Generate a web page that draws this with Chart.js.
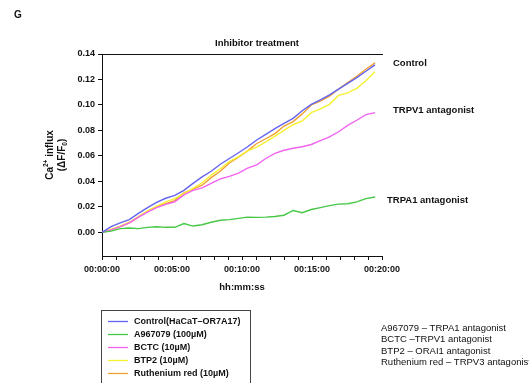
<!DOCTYPE html>
<html>
<head>
<meta charset="utf-8">
<script src="https://cdn.jsdelivr.net/npm/chart.js@4"></script>
<style>
  html, body { margin:0; padding:0; background:#fff; }
  #wrap { width:529px; height:383px; position:relative; }
</style>
</head>
<body>
<div id="wrap"><canvas id="chart" width="529" height="383"></canvas></div>
<script>
/* ---------- data (minutes since start, ΔF/F0) ---------- */
const times = [0, 0.65, 1.3, 1.95, 2.6, 3.25, 3.9, 4.55, 5.2, 5.85, 6.5, 7.15, 7.8, 8.45, 9.1, 9.75,
  10.4, 11.05, 11.7, 12.35, 13, 13.65, 14.3, 14.95, 15.6, 16.25, 16.9, 17.55, 18.2, 18.85, 19.5];

const control = [0, 0.0045, 0.0075, 0.010, 0.015, 0.0195, 0.0235, 0.0268, 0.029, 0.033, 0.0385, 0.0436,
  0.048, 0.0535, 0.058, 0.0625, 0.0672, 0.0725, 0.077, 0.0815, 0.0855, 0.0895, 0.0955, 0.1005, 0.104,
  0.108, 0.1125, 0.117, 0.1215, 0.1265, 0.1315];
const a967079 = [0, 0.001, 0.003, 0.0035, 0.003, 0.004, 0.0045, 0.004, 0.004, 0.007, 0.005, 0.006,
  0.008, 0.0095, 0.010, 0.011, 0.012, 0.0118, 0.012, 0.0125, 0.0135, 0.0172, 0.0155, 0.018, 0.0195,
  0.021, 0.0222, 0.0225, 0.024, 0.0265, 0.0278];
const bctc = [0, 0.002, 0.0045, 0.0075, 0.012, 0.016, 0.0195, 0.022, 0.024, 0.0295, 0.033, 0.035,
  0.0385, 0.042, 0.044, 0.0465, 0.0505, 0.053, 0.058, 0.062, 0.0645, 0.066, 0.0672, 0.069, 0.072,
  0.075, 0.079, 0.084, 0.088, 0.0925, 0.094];
const btp2 = [0, 0.0025, 0.005, 0.008, 0.0125, 0.017, 0.0205, 0.024, 0.0265, 0.0305, 0.0345, 0.039,
  0.045, 0.050, 0.0555, 0.0595, 0.064, 0.067, 0.071, 0.0755, 0.080, 0.0845, 0.0875, 0.094, 0.097,
  0.1005, 0.1075, 0.1095, 0.113, 0.119, 0.126];
const ruthenium = [0, 0.002, 0.0045, 0.0075, 0.012, 0.0165, 0.0203, 0.0225, 0.025, 0.031, 0.034, 0.037,
  0.043, 0.048, 0.0545, 0.059, 0.064, 0.0698, 0.0735, 0.0775, 0.0835, 0.087, 0.093, 0.100, 0.103,
  0.107, 0.1125, 0.1175, 0.1225, 0.128, 0.133];

const seriesLabels = ['Control(HaCaT\u2013OR7A17)', 'A967079 (100\u00b5M)', 'BCTC (10\u00b5M)',
  'BTP2 (10\u00b5M)', 'Ruthenium red (10\u00b5M)'];
const seriesColors = ['#6464f0', '#46c846', '#f064f0', '#f5f032', '#f0a032'];

const yTicks = [0, 0.02, 0.04, 0.06, 0.08, 0.10, 0.12, 0.14];
const xTicks = [0, 1, 2, 3, 4, 5, 6, 7, 8, 9, 10, 11, 12, 13, 14, 15, 16, 17, 18, 19, 20];
const xLabels = {0: '00:00:00', 5: '00:05:00', 10: '00:10:00', 15: '00:15:00', 20: '00:20:00'};

const endLabels = [
  { text: 'Control', x: 393, y: 63 },
  { text: 'TRPV1 antagonist', x: 393, y: 110 },
  { text: 'TRPA1 antagonist', x: 387, y: 200 }
];
const notes = ['A967079 \u2013 TRPA1 antagonist', 'BCTC \u2013TRPV1 antagonist',
  'BTP2 \u2013 ORAI1 antagonist', 'Ruthenium red \u2013 TRPV3 antagonist'];

const FONT = '"Liberation Sans", Arial, sans-serif';

/* ---------- helpers ---------- */
function toXY(ys){ return ys.map((v, i) => ({ x: times[i], y: v })); }

const allSeries = [control, a967079, bctc, btp2, ruthenium];

/* ---------- extra text: titles, labels, legend box, notes ---------- */
const annotations = {
  id: 'annotations',
  afterDraw(chart){
    const ctx = chart.ctx, a = chart.chartArea;
    ctx.save();
    ctx.fillStyle = '#111';

    // top frame line
    ctx.strokeStyle = '#111'; ctx.lineWidth = 1;
    ctx.beginPath(); ctx.moveTo(a.left, a.top + 0.5); ctx.lineTo(a.right + 1, a.top + 0.5); ctx.stroke();

    ctx.font = 'bold 10px ' + FONT;
    ctx.textBaseline = 'middle';
    ctx.textAlign = 'left';
    ctx.fillText('G', 14, 15);

    ctx.font = 'bold 9.5px ' + FONT;
    ctx.textAlign = 'center';
    ctx.fillText('Inhibitor treatment', 257, 43);
    ctx.fillText('hh:mm:ss', 242, 287);

    ctx.textAlign = 'left';
    endLabels.forEach(l => ctx.fillText(l.text, l.x, l.y));

    // y-axis title (rotated, with super/subscripts)
    ctx.save();
    ctx.translate(50, 155);
    ctx.rotate(-Math.PI / 2);
    ctx.textBaseline = 'middle';
    const big = 'bold 10px ' + FONT, small = 'bold 6.5px ' + FONT;
    const p1 = 'Ca', p2 = '2+', p3 = ' influx';
    ctx.font = big; const w1 = ctx.measureText(p1).width, w3 = ctx.measureText(p3).width;
    ctx.font = small; const w2 = ctx.measureText(p2).width;
    let x0 = -(w1 + w2 + w3) / 2;
    ctx.textAlign = 'left';
    ctx.font = big; ctx.fillText(p1, x0, 0);
    ctx.font = small; ctx.fillText(p2, x0 + w1, -3.5);
    ctx.font = big; ctx.fillText(p3, x0 + w1 + w2, 0);

    const q1 = '(\u0394F/F', q2 = '0', q3 = ')';
    ctx.font = big; const v1 = ctx.measureText(q1).width, v3 = ctx.measureText(q3).width;
    ctx.font = small; const v2 = ctx.measureText(q2).width;
    x0 = -(v1 + v2 + v3) / 2;
    ctx.font = big; ctx.fillText(q1, x0, 12);
    ctx.font = small; ctx.fillText(q2, x0 + v1, 15);
    ctx.font = big; ctx.fillText(q3, x0 + v1 + v2, 12);
    ctx.restore();

    // legend box
    ctx.strokeStyle = '#444'; ctx.lineWidth = 1;
    ctx.strokeRect(101.5, 310.5, 149, 80);
    ctx.font = 'bold 9px ' + FONT;
    chart.data.datasets.forEach((ds, i) => {
      const y = 321.5 + i * 13;
      ctx.strokeStyle = ds.borderColor; ctx.lineWidth = 1.3;
      ctx.beginPath(); ctx.moveTo(108, y); ctx.lineTo(128, y); ctx.stroke();
      ctx.fillStyle = '#111';
      ctx.fillText(ds.label, 134, y);
    });

    // notes on the right
    ctx.font = '9.5px ' + FONT;
    notes.forEach((t, i) => ctx.fillText(t, 381, 328 + i * 11.5));

    ctx.restore();
  }
};

/* ---------- chart ---------- */
window.onload = function(){
  const ctx = document.getElementById('chart').getContext('2d');
  new Chart(ctx, {
    type: 'line',
    data: {
      datasets: allSeries.map((s, i) => ({
        label: seriesLabels[i],
        data: toXY(s),
        borderColor: seriesColors[i],
        borderWidth: 1.4,
        pointRadius: 0,
        tension: 0,
        fill: false
      }))
    },
    options: {
      responsive: false,
      animation: false,
      layout: { padding: { left: 0, right: 147, top: 54, bottom: 97 } },
      plugins: { legend: { display: false }, tooltip: { enabled: false } },
      scales: {
        x: {
          type: 'linear', min: 0, max: 20,
          afterBuildTicks: s => { s.ticks = xTicks.map(v => ({ value: v })); },
          afterFit: s => { s.height = 30; },
          grid: { drawOnChartArea: false, drawTicks: true, tickLength: 4, color: '#111' },
          border: { color: '#111', width: 1 },
          ticks: {
            autoSkip: false, maxRotation: 0, padding: 4, color: '#111',
            font: { family: FONT, size: 9, weight: 'bold' },
            callback: v => xLabels[v] || ''
          }
        },
        y: {
          type: 'linear', min: -0.0185, max: 0.14,
          afterBuildTicks: s => { s.ticks = yTicks.map(v => ({ value: v })); },
          afterFit: s => { s.width = 102; },
          grid: { drawOnChartArea: false, drawTicks: true, tickLength: 4, color: '#111' },
          border: { color: '#111', width: 1 },
          ticks: {
            padding: 3, color: '#111',
            font: { family: FONT, size: 9, weight: 'bold' },
            callback: v => v.toFixed(2)
          }
        }
      }
    },
    plugins: [annotations]
  });
};
</script>
</body>
</html>
